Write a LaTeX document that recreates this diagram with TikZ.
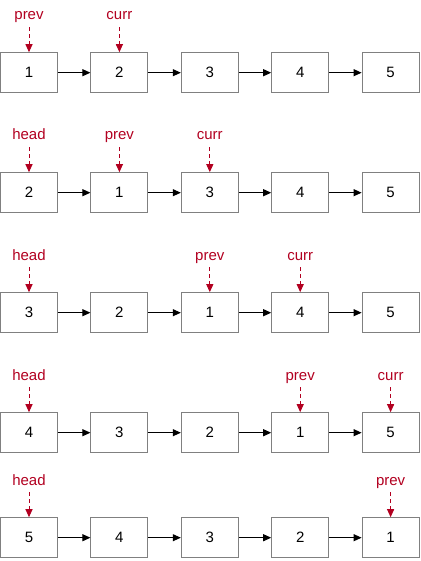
\documentclass[tikz,border=0pt]{standalone}
\usepackage{fontspec}
\setmainfont{Liberation Sans}
\usetikzlibrary{arrows.meta,positioning}
\definecolor{ptrred}{RGB}{178,0,32}
\begin{document}
\begin{tikzpicture}[x=1pt, y=-1pt,
box/.style = {draw=gray, line width=1pt, minimum width=57pt, minimum height=40pt, inner sep=0pt, font=\fontsize{15}{15}\selectfont},
ptr/.style = {text=ptrred, font=\fontsize{15}{15}\selectfont, text depth=3pt, inner sep=4pt},
link/.style = {-{Triangle[length=8pt,width=7pt]}, line width=1pt},
dptr/.style = {-{Triangle[length=8pt,width=7pt]}, draw=ptrred, dash pattern=on 4pt off 3pt, line width=1pt}
                        ]
\useasboundingbox (0,0) rectangle (420,561);

% the five lists
\foreach \r/\y/\vals in {1/72.7/{1,2,3,4,5}, 2/192.7/{2,1,3,4,5}, 3/312.7/{3,2,1,4,5}, 4/432.7/{4,3,2,1,5}, 5/537.7/{5,4,3,2,1}}
{
    \foreach \v [count=\c] in \vals
    {
        \node[box] (n\r\c) at ({29+90.4*(\c-1)},\y) {\v};
    }
    \foreach \a/\b in {1/2, 2/3, 3/4, 4/5}
    {
        \draw[link] (n\r\a) -- (n\r\b);
    }
}

% pointers
\foreach \r/\c/\t in {1/1/prev, 1/2/curr, 2/1/head, 2/2/prev, 2/3/curr, 3/1/head, 3/3/prev, 3/4/curr, 4/1/head, 4/4/prev, 4/5/curr, 5/1/head, 5/5/prev}
{
    \node[ptr, above=25pt of n\r\c] (\t\r) {\t};
    \draw[dptr] (\t\r) -- (n\r\c);
}

\end{tikzpicture}
\end{document}
